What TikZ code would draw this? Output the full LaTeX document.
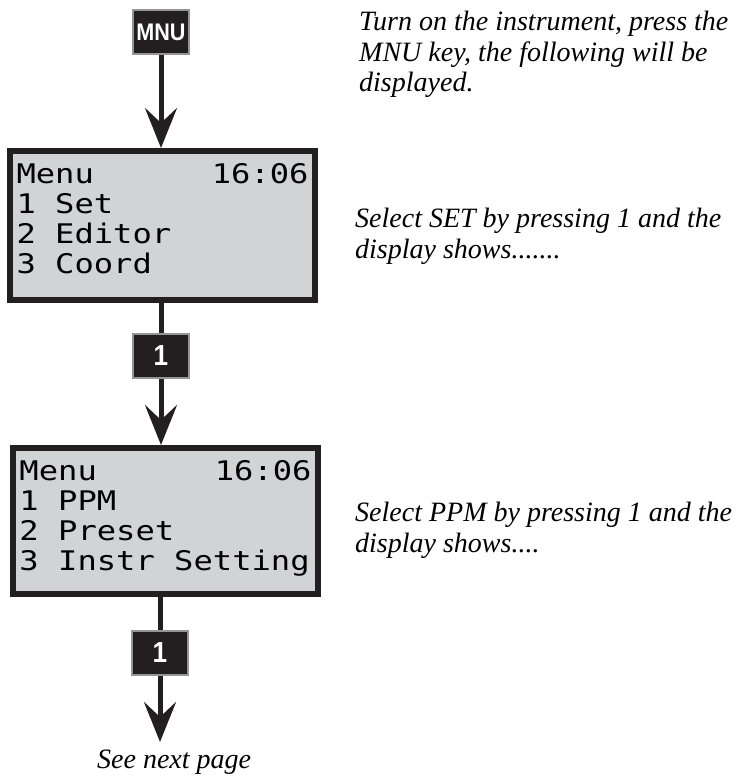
\documentclass[tikz,border=0pt]{standalone}
\usepackage{fontspec}
\setmainfont{Liberation Serif}
\newfontfamily\lcdfont[FakeStretch=1.19]{DejaVu Sans Mono}
\newfontfamily\keyfont[FakeStretch=0.9]{Liberation Sans}
\usetikzlibrary{arrows.meta,positioning}

\definecolor{ink}{HTML}{231F20}
\definecolor{lcd}{HTML}{D1D3D4}
\definecolor{keyrim}{HTML}{939598}

% one empty cell of the display
\newcommand\cell{\hphantom{0}}

\tikzset{
    keybox/.style={draw=keyrim, fill=ink, line width=2pt,
        minimum width=56pt, minimum height=44pt, inner sep=0pt,
        text=white, font=\keyfont\bfseries\fontsize{24}{24}\selectfont},
    digitkey/.style={keybox,
        font=\keyfont\bfseries\fontsize{29}{29}\selectfont},
    display/.style={draw=ink, fill=lcd, line width=6pt,
        minimum width=305pt, minimum height=149pt, text width=292pt,
        align=left, inner sep=0pt,
        font=\lcdfont\fontsize{27}{30}\selectfont},
    wire/.style={draw=ink, line width=5pt},
    flow/.style={wire, -{Stealth[length=40pt,width=32pt,inset=15pt]}},
    remark/.style={align=left, inner sep=0pt,
        font=\itshape\fontsize{28}{30.5}\selectfont}
}

\begin{document}
\begin{tikzpicture}[x=1pt,y=-1pt]
    \useasboundingbox (0,0) rectangle (740,776);
    % keys and displays
    \node[keybox] (mnu) at (161,32) {MNU};
    \node[display] (menu) at (162.5,225.5)
        {Menu\hfill16:06\\1\cell Set\\2\cell Editor\\3\cell Coord\vspace{13pt}};
    \node[digitkey] (set) at (161,356) {1};
    \node[display, minimum height=146pt] (setmenu) at (165.5,521)
        {Menu\hfill16:06\\1\cell PPM\\2\cell Preset\\3\cell Instr\cell Setting\vspace{5pt}};
    \node[digitkey] (ppm) at (160,653) {1};
    \coordinate (more) at (160,742);
    % connectors
    \draw[flow] (mnu) -- (mnu |- menu.north);
    \draw[wire] (set |- menu.south) -- (set.north);
    \draw[flow] (set) -- (set |- setmenu.north);
    \draw[wire] (ppm |- setmenu.south) -- (ppm.north);
    \draw[flow] (ppm) -- (more);
    % notes (anchored on their last line)
    \node[remark, anchor=base west] (turnon) at (359,92)
        {Turn on the instrument, press the\\MNU key, the following will be\\displayed.};
    \node[remark, anchor=base west] (selset) at (355,258)
        {Select SET by pressing 1 and the\\display shows.......};
    \node[remark, anchor=base west] (selppm) at (355,552)
        {Select PPM by pressing 1 and the\\display shows....};
    \node[remark, anchor=base west] (seenext) at (97,768) {See next page};
\end{tikzpicture}
\end{document}
